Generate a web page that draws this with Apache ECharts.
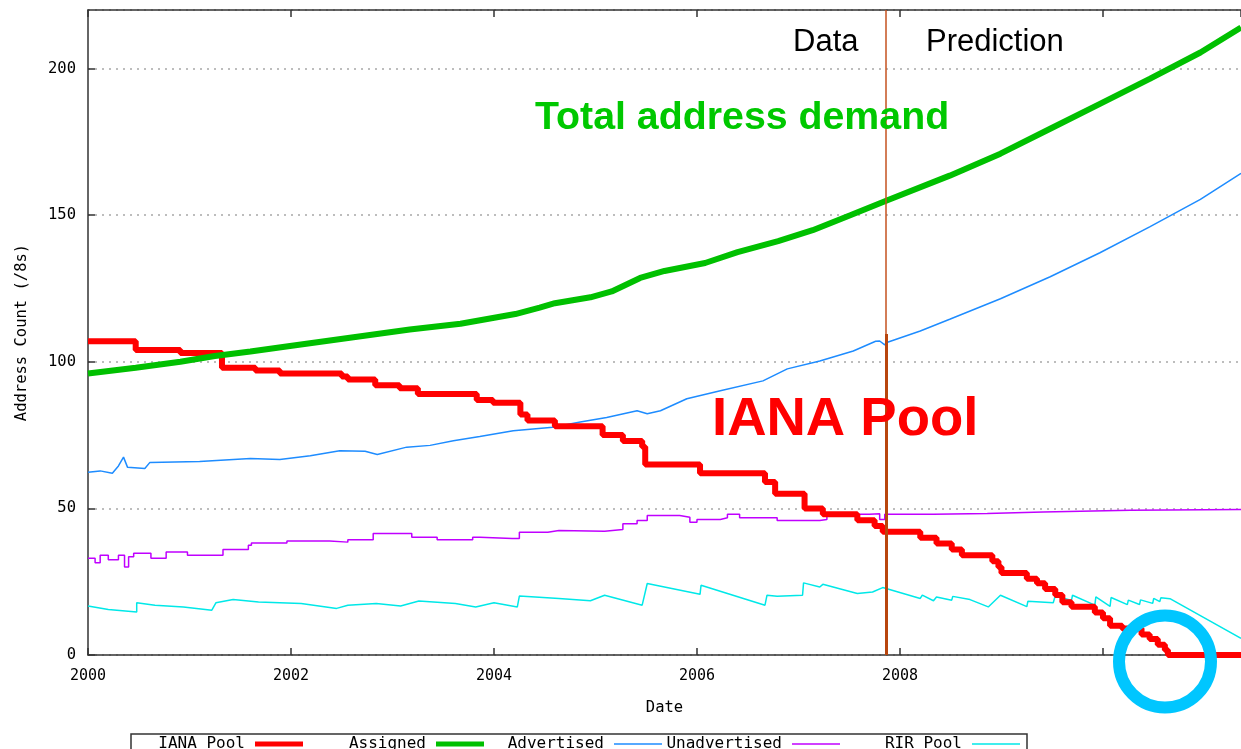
<!DOCTYPE html>
<html>
<head>
<meta charset="utf-8">
<script src="https://cdn.jsdelivr.net/npm/echarts@6/dist/echarts.min.js"></script>
<style>
html, body { margin: 0; padding: 0; background: #fff; }
#chart { width: 1241px; height: 749px; }
</style>
</head>
<body>
<div id="chart"></div>
<script>
// decimal years
var dataEnd = 2007.86;

var ianaDates = [2000.00, 2000.47, 2000.91, 2001.32, 2001.65, 2001.89, 2002.50, 2002.56, 2002.83, 2003.07, 2003.25, 2003.83, 2003.99, 2004.26, 2004.33, 2004.60, 2005.07, 2005.27, 2005.46, 2005.49, 2006.03, 2006.67, 2006.77, 2007.06, 2007.24, 2007.58, 2007.75, 2007.83, 2008.20, 2008.36, 2008.51, 2008.61, 2008.91, 2008.97, 2009.00, 2009.25, 2009.35, 2009.43, 2009.53, 2009.60, 2009.69, 2009.92, 2010.00, 2010.07, 2010.19, 2010.38, 2010.46, 2010.54, 2010.61, 2010.64, 2011.36];
var ianaPool = [107, 104, 103, 98, 97, 96, 95, 94, 92, 91, 89, 87, 86, 82, 80, 78, 75, 73, 71, 65, 62, 59, 55, 50, 48, 46, 44, 42, 40, 38, 36, 34, 32, 30, 28, 26, 24.5, 22.5, 20.5, 18, 16.5, 14.5, 12.5, 10, 9, 7, 5.5, 3.5, 1.7, 0, 0];

var assignedDates = [2000.00, 2000.47, 2000.91, 2001.25, 2001.60, 2001.99, 2002.58, 2003.17, 2003.67, 2004.21, 2004.45, 2004.60, 2004.95, 2005.16, 2005.44, 2005.68, 2006.08, 2006.40, 2006.80, 2007.14, 2007.51, 2007.87, 2008.49, 2008.99, 2009.48, 2009.97, 2010.46, 2010.96, 2011.36];
var assigned = [96, 98, 100, 102, 103.5, 105.4, 108.2, 111, 113, 116.3, 118.5, 120, 122, 124, 128.6, 131, 133.7, 137.4, 141.2, 144.9, 150, 155, 163.5, 171, 179.5, 188, 196.5, 205.5, 214];

var advertisedDates = [2000.00, 2000.12, 2000.24, 2000.30, 2000.35, 2000.39, 2000.56, 2000.61, 2001.10, 2001.60, 2001.89, 2002.19, 2002.48, 2002.73, 2002.85, 2003.14, 2003.37, 2003.60, 2003.86, 2004.19, 2004.58, 2004.85, 2005.11, 2005.41, 2005.51, 2005.64, 2005.90, 2006.23, 2006.65, 2006.89, 2007.21, 2007.54, 2007.76, 2007.80, 2007.85, 2007.87, 2008.20, 2008.49, 2008.99, 2009.48, 2009.97, 2010.46, 2010.96, 2011.36];
var advertised = [62.3, 62.8, 62, 64.5, 67.5, 64, 63.6, 65.7, 66, 67, 66.7, 68, 69.7, 69.5, 68.4, 70.9, 71.5, 73.1, 74.5, 76.5, 77.7, 79.5, 81, 83.3, 82.3, 83.3, 87.4, 90.1, 93.5, 97.6, 100.3, 103.7, 107, 107.1, 105.8, 106.6, 110.5, 114.5, 121.5, 129, 137.2, 146, 155.4, 164.3];

var unadvDates = [2000.00, 2000.07, 2000.12, 2000.20, 2000.30, 2000.36, 2000.40, 2000.45, 2000.62, 2000.77, 2000.98, 2001.33, 2001.58, 2001.61, 2001.96, 2002.38, 2002.56, 2002.81, 2003.08, 2003.19, 2003.44, 2003.79, 2003.86, 2004.18, 2004.25, 2004.53, 2004.64, 2005.09, 2005.27, 2005.41, 2005.51, 2005.83, 2005.93, 2006.00, 2006.23, 2006.30, 2006.42, 2006.79, 2007.21, 2007.28, 2007.54, 2007.70, 2007.80, 2007.85, 2008.33, 2008.86, 2009.41, 2010.27, 2011.36];
var unadvertised = [33, 31.5, 34, 32.5, 34, 30, 33.5, 34.7, 33, 35.1, 34, 36, 37.4, 38.2, 38.9, 38.5, 39.3, 41.4, 41.4, 40.2, 39.3, 40.2, 39.7, 39.7, 41.9, 42.5, 42.2, 42.8, 44.8, 45.9, 47.6, 47, 45.3, 46.2, 46.8, 48, 46.8, 45.9, 46.2, 47.3, 48, 48.2, 46.2, 48, 48.3, 48.8, 49.4, 49.6, 49.6];

var rirDates = [2000.00, 2000.20, 2000.48, 2000.48, 2000.66, 2000.94, 2001.22, 2001.26, 2001.43, 2001.68, 2002.10, 2002.45, 2002.56, 2002.84, 2003.08, 2003.26, 2003.62, 2003.82, 2004.00, 2004.23, 2004.25, 2004.64, 2004.95, 2005.09, 2005.46, 2005.51, 2006.03, 2006.04, 2006.67, 2006.69, 2006.79, 2007.04, 2007.05, 2007.21, 2007.24, 2007.58, 2007.73, 2007.83, 2008.20, 2008.22, 2008.33, 2008.36, 2008.51, 2008.52, 2008.69, 2008.87, 2008.99, 2009.25, 2009.26, 2009.51, 2009.53, 2009.69, 2009.70, 2009.92, 2009.93, 2010.07, 2010.08, 2010.24, 2010.25, 2010.36, 2010.37, 2010.49, 2010.50, 2010.56, 2010.57, 2010.66, 2011.36];
var rirPool = [16.7, 15.5, 14.7, 17.8, 17, 16.4, 15.3, 17.8, 18.9, 18.1, 17.6, 15.9, 17, 17.6, 16.7, 18.4, 17.6, 16.4, 17.8, 16.4, 20.1, 19.3, 18.5, 20.4, 17, 24.4, 20.7, 23.8, 17, 20.4, 20, 20.4, 24.6, 23.2, 24.1, 21, 21.5, 23, 19.3, 20.4, 18.5, 19.8, 18.7, 20, 18.9, 16.4, 20.4, 16.5, 18.3, 17.8, 20.2, 18.6, 20.4, 17, 19.8, 16.6, 19.6, 17.2, 18.7, 17.2, 18.8, 17.6, 19.3, 18.2, 19.5, 19.2, 5.7];

var xTicks = [2000, 2002, 2004, 2006, 2008];
var seriesNames = ['IANA Pool', 'Assigned', 'Advertised', 'Unadvertised', 'RIR Pool'];
var seriesColors = ['#ff0000', '#00c000', '#1e8cff', '#c000ff', '#00e8e8'];
var seriesWidths = [6, 6, 1.5, 1.5, 1.5];

function pairs(xs, ys) {
	return xs.map(function(x, i) { return [x, ys[i]]; });
}

var mono = '"DejaVu Sans Mono", monospace';
var sans = '"Liberation Sans", Arial, sans-serif';
var axisCol = '#333';

// gnuplot style key: one legend per column, sample line on the right of the text
var keyLineEnds = [303, 484, 662, 840, 1020];
var legends = seriesNames.map(function(name, i) {
	return {
		data: [name],
		right: 1241 - keyLineEnds[i], top: 736,
		padding: 0, align: 'right', icon: 'rect',
		itemWidth: 48, itemHeight: seriesWidths[i] > 2 ? 5 : 1.5,
		textStyle: { fontFamily: mono, fontSize: 16, color: '#000', padding: [0, 5, 0, 0] }
	};
});

var chart = echarts.init(document.getElementById('chart'));

var option = {
	animation: false,
	backgroundColor: '#fff',
	grid: { left: 88, right: 0, top: 10, bottom: 94, containLabel: false },
	legend: legends,
	xAxis: [{
		type: 'value', min: 2000, max: 2011.36, interval: 2, position: 'bottom',
		name: 'Date', nameLocation: 'middle', nameGap: 45,
		nameTextStyle: { fontFamily: mono, fontSize: 15.5, color: '#000' },
		axisLine: { onZero: false, lineStyle: { color: axisCol, width: 1.5 } },
		axisTick: { inside: true, length: 7, lineStyle: { color: axisCol, width: 1.5 } },
		axisLabel: {
			margin: 14, fontFamily: mono, fontSize: 15, color: '#000', showMaxLabel: false,
			formatter: function(v) { return xTicks.indexOf(v) >= 0 ? String(v) : ''; }
		},
		splitLine: { show: false }
	}, {
		type: 'value', min: 2000, max: 2011.36, interval: 2, position: 'top',
		axisLine: { onZero: false, lineStyle: { color: axisCol, width: 1.5 } },
		axisTick: { inside: true, length: 7, lineStyle: { color: axisCol, width: 1.5 } },
		axisLabel: { show: false },
		splitLine: { show: false }
	}],
	yAxis: {
		type: 'value', min: 0, max: 220, interval: 50,
		name: 'Address Count (/8s)', nameLocation: 'middle', nameGap: 58,
		nameTextStyle: { fontFamily: mono, fontSize: 15.5, color: '#000' },
		axisLine: { show: true, onZero: false, lineStyle: { color: axisCol, width: 1.5 } },
		axisTick: { show: true, inside: true, length: 7, lineStyle: { color: axisCol, width: 1.5 } },
		axisLabel: { margin: 12, fontFamily: mono, fontSize: 15.5, color: '#000', showMaxLabel: false },
		splitLine: { show: true, lineStyle: { color: '#a8a8a8', width: 1.5, type: [2, 5] } }
	},
	series: [{
		name: 'IANA Pool', type: 'line', step: 'end', symbol: 'none', color: seriesColors[0],
		lineStyle: { width: seriesWidths[0], color: seriesColors[0] }, data: pairs(ianaDates, ianaPool), z: 3,
		markLine: {
			silent: true, symbol: 'none', label: { show: false }, animation: false,
			data: [
				[{ coord: [dataEnd, 0], lineStyle: { color: '#c4521f', width: 1.5, type: 'solid' } }, { coord: [dataEnd, 220] }],
				[{ coord: [dataEnd, 0], lineStyle: { color: '#b8460e', width: 3, type: 'solid' } }, { coord: [dataEnd, 109.5] }]
			]
		}
	}, {
		name: 'Assigned', type: 'line', symbol: 'none', color: seriesColors[1],
		lineStyle: { width: seriesWidths[1], color: seriesColors[1] }, data: pairs(assignedDates, assigned), z: 3
	}, {
		name: 'Advertised', type: 'line', symbol: 'none', color: seriesColors[2],
		lineStyle: { width: seriesWidths[2], color: seriesColors[2] }, data: pairs(advertisedDates, advertised), z: 2
	}, {
		name: 'Unadvertised', type: 'line', step: 'end', symbol: 'none', color: seriesColors[3],
		lineStyle: { width: seriesWidths[3], color: seriesColors[3] }, data: pairs(unadvDates, unadvertised), z: 2
	}, {
		name: 'RIR Pool', type: 'line', symbol: 'none', color: seriesColors[4],
		lineStyle: { width: seriesWidths[4], color: seriesColors[4] }, data: pairs(rirDates, rirPool), z: 2
	}],
	graphic: [
		{ type: 'text', left: 793, top: 27, z: 10, style: { text: 'Data', font: '31px ' + sans, fill: '#000', verticalAlign: 'middle' } },
		{ type: 'text', left: 926, top: 27, z: 10, style: { text: 'Prediction', font: '31px ' + sans, fill: '#000', verticalAlign: 'middle' } },
		{ type: 'text', left: 535, top: 99, z: 10, style: { text: 'Total address demand', font: 'bold 39.3px ' + sans, fill: '#00c800', verticalAlign: 'middle' } },
		{ type: 'text', left: 712, top: 392, z: 10, style: { text: 'IANA Pool', font: 'bold 54.5px ' + sans, fill: '#ff0000', verticalAlign: 'middle' } },
		{ type: 'rect', z: 1, shape: { x: 131, y: 734, width: 896, height: 40 }, style: { fill: 'none', stroke: axisCol, lineWidth: 1.5 } },
		{ type: 'circle', z: 10, shape: { cx: 1165, cy: 661.5, r: 46 }, style: { fill: 'none', stroke: '#00c6ff', lineWidth: 12 } }
	]
};

chart.setOption(option);
</script>
</body>
</html>
